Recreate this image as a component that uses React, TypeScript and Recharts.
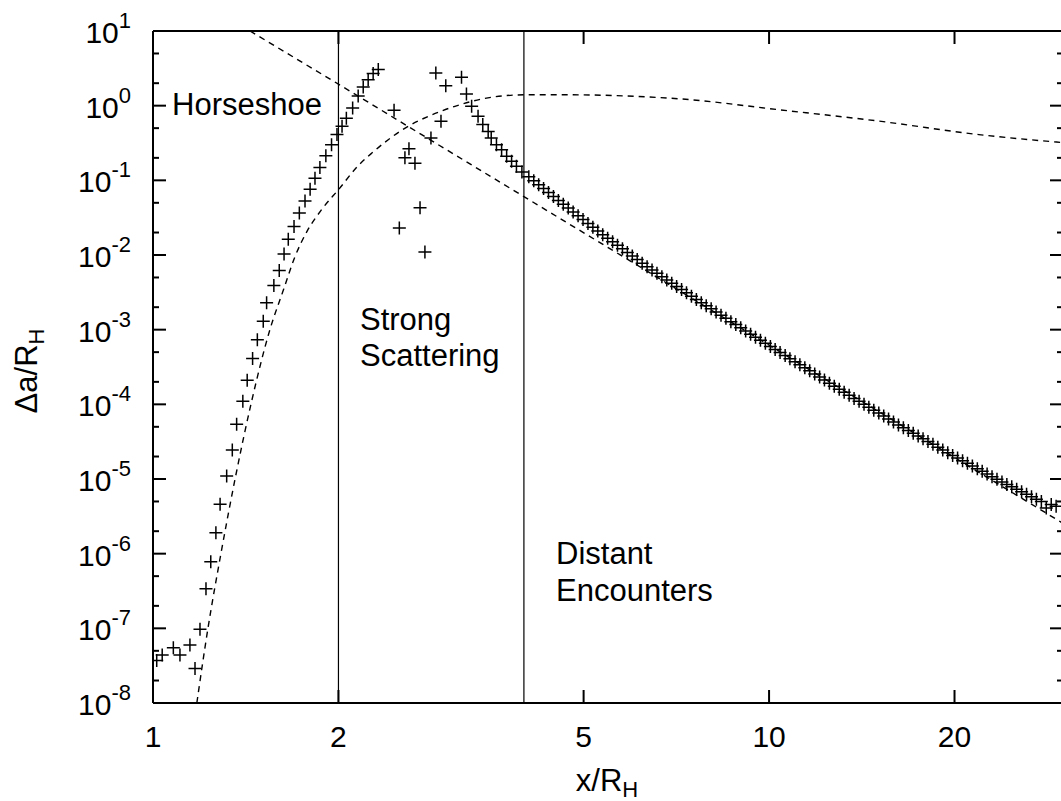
import { ComposedChart, Scatter, Line, XAxis, YAxis, ReferenceLine, Customized } from 'recharts';

const FONT = '"Liberation Sans", Arial, Helvetica, sans-serif';

// axis ticks
const xTicks = [1, 2, 5, 10, 20];
const yTicks = [
  1e-8, 2e-8, 5e-8, 1e-7, 2e-7, 5e-7, 1e-6, 2e-6, 5e-6, 1e-5, 2e-5, 5e-5, 1e-4, 2e-4,
  5e-4, 1e-3, 2e-3, 5e-3, 1e-2, 2e-2, 5e-2, 1e-1, 2e-1, 5e-1, 1, 2, 5, 10,
];

// regime boundaries (vertical lines)
const regimeBounds = [2, 4];

// measured points, horseshoe side
const horseshoeX = [
  1.014, 1.035, 1.079, 1.106, 1.148, 1.17, 1.192, 1.219, 1.241, 1.265,
  1.285, 1.317, 1.345, 1.367, 1.399, 1.422, 1.451, 1.477, 1.51, 1.529,
  1.571, 1.603, 1.632, 1.658, 1.694, 1.728, 1.765, 1.799, 1.832, 1.866,
  1.908, 1.949, 1.989, 2.027, 2.06, 2.109, 2.153, 2.194, 2.235, 2.277, 2.321,
];
const horseshoeY = [
  3.7e-8, 4.4e-8, 5.5e-8, 4.4e-8, 6.0e-8, 2.9e-8, 9.7e-8, 3.4e-7, 7.8e-7, 1.9e-6,
  4.6e-6, 1.1e-5, 2.45e-5, 5.4e-5, 1.1e-4, 2.1e-4, 4.1e-4, 7.3e-4, 1.3e-3, 2.3e-3,
  3.9e-3, 6.2e-3, 0.0103, 0.0163, 0.024, 0.0365, 0.053, 0.076, 0.107, 0.149,
  0.214, 0.3, 0.41, 0.53, 0.68, 0.93, 1.35, 1.78, 2.23, 2.69, 3.04,
];

// measured points, strong scattering zone
const scatterX = [
  2.462, 2.511, 2.564, 2.603, 2.662, 2.713, 2.763, 2.826, 2.878, 2.934,
  2.987, 3.168, 3.227, 3.29, 3.37, 3.43, 3.5, 3.54, 3.61, 3.68,
  3.75, 3.82, 3.89, 3.97,
];
const scatterY = [
  0.865, 0.023, 0.2, 0.265, 0.17, 0.043, 0.011, 0.37, 2.74, 0.62,
  1.85, 2.4, 1.43, 0.98, 0.72, 0.56, 0.45, 0.37, 0.3, 0.257,
  0.21, 0.18, 0.154, 0.129,
];

// measured points, distant encounters
const distantX = [
  4.074, 4.15, 4.227, 4.305, 4.385, 4.467, 4.55, 4.634, 4.721, 4.808,
  4.898, 4.989, 5.082, 5.176, 5.272, 5.37, 5.47, 5.572, 5.675, 5.781,
  5.888, 5.998, 6.109, 6.223, 6.339, 6.457, 6.577, 6.699, 6.823, 6.95,
  7.079, 7.211, 7.345, 7.482, 7.621, 7.762, 7.907, 8.054, 8.204, 8.356,
  8.511, 8.67, 8.831, 8.995, 9.162, 9.333, 9.506, 9.683, 9.863, 10.05,
  10.23, 10.42, 10.62, 10.81, 11.02, 11.22, 11.43, 11.64, 11.86, 12.08,
  12.3, 12.53, 12.76, 13.0, 13.24, 13.49, 13.74, 14.0, 14.26, 14.52,
  14.79, 15.07, 15.35, 15.63, 15.92, 16.22, 16.52, 16.83, 17.14, 17.46,
  17.78, 18.11, 18.45, 18.79, 19.14, 19.5, 19.86, 20.23, 20.61, 20.99,
  21.38, 21.78, 22.18, 22.59, 23.01, 23.44, 23.88, 24.32, 24.77, 25.23,
  25.7, 26.18, 26.67, 27.16, 27.67, 28.18, 28.71, 29.24,
];
const distantY = [
  0.112, 0.0989, 0.0876, 0.0775, 0.0687, 0.0608, 0.0538, 0.0478, 0.0425, 0.0377,
  0.0335, 0.0298, 0.0265, 0.0236, 0.0209, 0.0187, 0.0167, 0.015, 0.0135, 0.0121,
  0.0108, 9.69e-3, 8.69e-3, 7.78e-3, 6.98e-3, 6.28e-3, 5.68e-3, 5.13e-3, 4.64e-3, 4.2e-3,
  3.8e-3, 3.44e-3, 3.11e-3, 2.81e-3, 2.54e-3, 2.3e-3, 2.09e-3, 1.9e-3, 1.72e-3, 1.56e-3,
  1.42e-3, 1.28e-3, 1.17e-3, 1.06e-3, 9.6e-4, 8.7e-4, 7.92e-4, 7.21e-4, 6.56e-4, 5.97e-4,
  5.43e-4, 4.94e-4, 4.5e-4, 4.09e-4, 3.72e-4, 3.39e-4, 3.08e-4, 2.81e-4, 2.55e-4, 2.32e-4,
  2.11e-4, 1.92e-4, 1.75e-4, 1.59e-4, 1.45e-4, 1.32e-4, 1.2e-4, 1.1e-4, 1.0e-4, 9.15e-5,
  8.36e-5, 7.63e-5, 6.96e-5, 6.36e-5, 5.8e-5, 5.3e-5, 4.85e-5, 4.46e-5, 4.09e-5, 3.76e-5,
  3.45e-5, 3.17e-5, 2.91e-5, 2.67e-5, 2.45e-5, 2.25e-5, 2.07e-5, 1.91e-5, 1.76e-5, 1.62e-5,
  1.49e-5, 1.37e-5, 1.27e-5, 1.17e-5, 1.07e-5, 9.89e-6, 9.14e-6, 8.47e-6, 7.85e-6, 7.27e-6,
  6.74e-6, 6.25e-6, 5.79e-6, 5.36e-6, 5.0e-6, 4.1e-6, 4.55e-6, 4.3e-6,
];

// dashed curve: power law falling to the right
const powerLawX = [1.437, 2, 3, 4, 6, 10, 20, 30];
const powerLawY = [10, 1.94, 0.255, 0.0605, 0.008, 6.2e-4, 1.94e-5, 2.55e-6];

// dashed curve: rising then slowly falling
const riseX = [1.178, 1.228, 1.289, 1.359, 1.442, 1.548, 1.63, 1.7, 1.78, 1.88, 2.0, 2.15, 2.266, 2.409, 2.595, 2.799, 3.091, 3.42, 3.72, 4.06, 4.63, 7.2, 10.4, 15.1, 21.9, 30];
const riseY = [1e-8, 1e-7, 1e-6, 1e-5, 1e-4, 1e-3, 3.5e-3, 9.5e-3, 0.021, 0.041, 0.075, 0.155, 0.232, 0.35, 0.53, 0.72, 0.98, 1.23, 1.36, 1.4, 1.4, 1.23, 0.88, 0.62, 0.41, 0.32];

const zip = (xs: number[], ys: number[]) => xs.map((x, i) => ({ x, y: ys[i] }));

const points = [
  ...zip(horseshoeX, horseshoeY),
  ...zip(scatterX, scatterY),
  ...zip(distantX, distantY),
];
const powerLaw = zip(powerLawX, powerLawY);
const rise = zip(riseX, riseY);

const isDecade = (v: number) => Math.abs(Math.log10(v) - Math.round(Math.log10(v))) < 1e-6;

function Plus(props: any) {
  const { cx, cy } = props;
  if (cx == null || cy == null) return null;
  return (
    <path
      d={`M${cx - 6.5},${cy}H${cx + 6.5}M${cx},${cy - 6.5}V${cy + 6.5}`}
      stroke="#000"
      strokeWidth={1.5}
      fill="none"
    />
  );
}

function BottomTick({ x, y, payload }: any) {
  return (
    <g>
      <line x1={x} x2={x} y1={y} y2={y - 13} stroke="#000" strokeWidth={2} />
      <text x={x} y={y + 44} textAnchor="middle" fontSize={30} fontFamily={FONT} fill="#000">
        {payload.value}
      </text>
    </g>
  );
}

function TopTick({ x, y }: any) {
  return <line x1={x} x2={x} y1={y} y2={y + 13} stroke="#000" strokeWidth={2} />;
}

function LeftTick({ x, y, payload }: any) {
  const major = isDecade(payload.value);
  const e = Math.round(Math.log10(payload.value));
  return (
    <g>
      <line x1={x} x2={x + (major ? 13 : 6)} y1={y} y2={y} stroke="#000" strokeWidth={2} />
      {major && (
        <text x={131} y={y + 12} textAnchor="end" fontSize={30} fontFamily={FONT} fill="#000">
          10<tspan dy={-15} fontSize={22}>{e}</tspan>
        </text>
      )}
    </g>
  );
}

function RightTick({ x, y, payload }: any) {
  const major = isDecade(payload.value);
  return <line x1={x} x2={x - (major ? 13 : 6)} y1={y} y2={y} stroke="#000" strokeWidth={2} />;
}

function Annotations() {
  return (
    <g fontFamily={FONT} fontSize={31} fill="#000">
      <text x={172} y={115}>Horseshoe</text>
      <text x={360} y={330}>Strong</text>
      <text x={360} y={366}>Scattering</text>
      <text x={556} y={564}>Distant</text>
      <text x={556} y={601}>Encounters</text>
      <text x={607} y={791} textAnchor="middle">
        x/R<tspan fontSize={22} dy={6}>H</tspan>
      </text>
      <text transform="translate(37,371) rotate(-90)" textAnchor="middle">
        Δa/R<tspan fontSize={22} dy={7}>H</tspan>
      </text>
    </g>
  );
}

export default function App() {
  return (
    <div style={{ position: 'absolute', left: 0, top: 0, width: 1061, height: 801, overflow: 'hidden', background: '#fff' }}>
      <ComposedChart width={1075} height={801} margin={{ top: 0, right: 0, bottom: 0, left: 0 }}>
        <XAxis
          dataKey="x"
          type="number"
          scale="log"
          domain={[1, 30]}
          allowDataOverflow
          ticks={xTicks}
          interval={0}
          height={98}
          tickSize={0}
          tickMargin={0}
          tick={<BottomTick />}
          axisLine={{ stroke: '#000', strokeWidth: 2 }}
        />
        <XAxis
          xAxisId="top"
          orientation="top"
          dataKey="x"
          type="number"
          scale="log"
          domain={[1, 30]}
          allowDataOverflow
          ticks={xTicks}
          interval={0}
          height={31}
          tickSize={0}
          tickMargin={0}
          tick={<TopTick />}
          axisLine={{ stroke: '#000', strokeWidth: 2 }}
        />
        <YAxis
          type="number"
          scale="log"
          domain={[1e-8, 10]}
          allowDataOverflow
          ticks={yTicks}
          interval={0}
          width={153}
          tickSize={0}
          tickMargin={0}
          tick={<LeftTick />}
          axisLine={{ stroke: '#000', strokeWidth: 2 }}
        />
        <YAxis
          yAxisId="right"
          orientation="right"
          type="number"
          scale="log"
          domain={[1e-8, 10]}
          allowDataOverflow
          ticks={yTicks}
          interval={0}
          width={12}
          tickSize={0}
          tickMargin={0}
          tick={<RightTick />}
          axisLine={{ stroke: '#000', strokeWidth: 2 }}
        />
        {regimeBounds.map((b) => (
          <ReferenceLine key={b} x={b} stroke="#000" strokeWidth={1.2} />
        ))}
        <Line data={powerLaw} dataKey="y" type="linear" stroke="#000" strokeWidth={1.4} strokeDasharray="6 5" dot={false} isAnimationActive={false} />
        <Line data={rise} dataKey="y" type="monotone" stroke="#000" strokeWidth={1.4} strokeDasharray="6 5" dot={false} isAnimationActive={false} />
        <Scatter data={points} dataKey="y" shape={<Plus />} isAnimationActive={false} />
        <Customized component={Annotations} />
      </ComposedChart>
    </div>
  );
}
